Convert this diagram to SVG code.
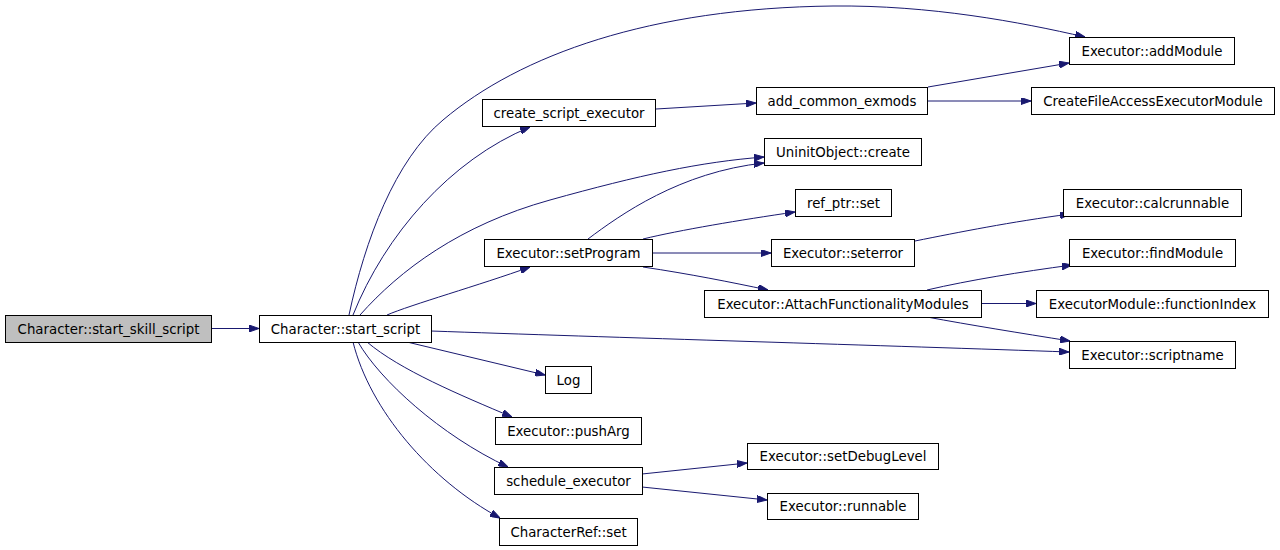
<svg xmlns="http://www.w3.org/2000/svg" width="1280" height="550" viewBox="0 0 1280 550">
<style>
.n rect{fill:#fff;stroke:#000;stroke-width:1}
.n text{font-family:"DejaVu Sans",sans-serif;font-size:13.33px;text-anchor:middle;fill:#000}
.e path{fill:none;stroke:#191970;stroke-width:1;marker-end:url(#ah)}
</style>
<defs>
<marker id="ah" viewBox="0 0 10 7" refX="10" refY="3.5" markerWidth="10" markerHeight="7" markerUnits="userSpaceOnUse" orient="auto">
<path d="M0,0 L10,3.5 L0,7 z" fill="#191970" stroke="#191970"/>
</marker>
</defs>
<rect width="1280" height="550" fill="#fff"/>
<g id="edges" class="e">
<path d="M211,328.5 L259,328.5"/>
<path d="M349,315 C365,240 395,160 443,120 C520,55 650,8 833,6 C930,5 1020,22 1085,37"/>
<path d="M353,315 C385,235 450,160 530,127"/>
<path d="M360,315 C400,270 460,225 550,200 C640,175 700,162 764,157"/>
<path d="M387,315 C410,305 480,285 530,267"/>
<path d="M431,331 C600,337 900,346 1069,352"/>
<path d="M407,342 L545,375"/>
<path d="M367,342 C400,370 460,395 512,417"/>
<path d="M358,342 C380,380 440,435 508,467"/>
<path d="M353,342 C370,410 430,480 500,518"/>
<path d="M656,109 L756,103"/>
<path d="M928,87 L1069,63"/>
<path d="M927,101 L1031,101"/>
<path d="M588,239 C620,215 680,172 764,163"/>
<path d="M643,239 C680,230 740,220 795,212"/>
<path d="M653,253 L771,253"/>
<path d="M643,267 C690,274 730,282 768,290"/>
<path d="M915,241 C960,232 1010,222 1070,214"/>
<path d="M927,290 C970,280 1020,272 1072,265"/>
<path d="M982,303.5 L1036,303.5"/>
<path d="M927,317 C970,325 1020,333 1070,341"/>
<path d="M642,474 L747,463"/>
<path d="M642,487 L767,500"/>
</g>
<g id="n1" class="n"><rect x="5.5" y="315.5" width="206" height="27" style="fill:#bfbfbf"/><text x="108.5" y="333.5">Character::start_skill_script</text></g>
<g id="n2" class="n"><rect x="259.5" y="315.5" width="172" height="27"/><text x="345.5" y="333.5">Character::start_script</text></g>
<g id="n3" class="n"><rect x="482.5" y="99.5" width="173" height="27"/><text x="569" y="117.5">create_script_executor</text></g>
<g id="n4" class="n"><rect x="756.5" y="87.5" width="171" height="27"/><text x="842" y="105.5">add_common_exmods</text></g>
<g id="n5" class="n"><rect x="764.5" y="138.5" width="157" height="27"/><text x="843" y="156.5">UninitObject::create</text></g>
<g id="n6" class="n"><rect x="1069.5" y="37.5" width="165" height="27"/><text x="1152" y="55.5">Executor::addModule</text></g>
<g id="n7" class="n"><rect x="1031.5" y="87.5" width="243" height="27"/><text x="1153" y="105.5">CreateFileAccessExecutorModule</text></g>
<g id="n8" class="n"><rect x="795.5" y="189.5" width="96" height="27"/><text x="843.5" y="207.5">ref_ptr::set</text></g>
<g id="n9" class="n"><rect x="484.5" y="239.5" width="168" height="27"/><text x="568.5" y="257.5">Executor::setProgram</text></g>
<g id="n10" class="n"><rect x="771.5" y="239.5" width="143" height="27"/><text x="843" y="257.5">Executor::seterror</text></g>
<g id="n11" class="n"><rect x="704.5" y="290.5" width="277" height="27"/><text x="843" y="308.5">Executor::AttachFunctionalityModules</text></g>
<g id="n12" class="n"><rect x="1063.5" y="189.5" width="178" height="27"/><text x="1152.5" y="207.5">Executor::calcrunnable</text></g>
<g id="n13" class="n"><rect x="1069.5" y="239.5" width="166" height="27"/><text x="1152.5" y="257.5">Executor::findModule</text></g>
<g id="n14" class="n"><rect x="1036.5" y="290.5" width="232" height="27"/><text x="1152.5" y="308.5">ExecutorModule::functionIndex</text></g>
<g id="n15" class="n"><rect x="1069.5" y="341.5" width="166" height="27"/><text x="1152.5" y="359.5">Executor::scriptname</text></g>
<g id="n16" class="n"><rect x="545.5" y="366.5" width="46" height="27"/><text x="568.5" y="384.5">Log</text></g>
<g id="n17" class="n"><rect x="495.5" y="417.5" width="146" height="27"/><text x="568.5" y="435.5">Executor::pushArg</text></g>
<g id="n18" class="n"><rect x="494.5" y="467.5" width="148" height="27"/><text x="568.5" y="485.5">schedule_executor</text></g>
<g id="n19" class="n"><rect x="499.5" y="518.5" width="138" height="27"/><text x="568.5" y="536.5">CharacterRef::set</text></g>
<g id="n20" class="n"><rect x="747.5" y="443.5" width="191" height="26"/><text x="843" y="461">Executor::setDebugLevel</text></g>
<g id="n21" class="n"><rect x="767.5" y="493.5" width="151" height="26"/><text x="843" y="511">Executor::runnable</text></g>
</svg>
